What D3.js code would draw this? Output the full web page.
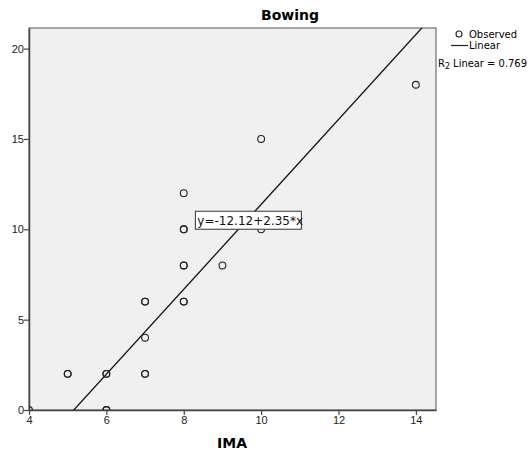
<!DOCTYPE html>
<html>
<head>
<meta charset="utf-8">
<script src="https://cdn.jsdelivr.net/npm/d3@7"></script>
<style>
  body { margin: 0; background: #fff; }
  svg { font-family: "DejaVu Sans", sans-serif; }
</style>
</head>
<body>
<div id="chart"></div>
<script>
// observed points (IMA, Bowing); repeated pairs are drawn on top of each other
const imaValues    = [4, 5, 5, 6, 6, 6, 6, 7, 7, 7, 7, 7, 8, 8, 8, 8, 8, 8, 8, 9, 10, 10, 14];
const bowingValues = [0, 2, 2, 2, 2, 0, 0, 6, 6, 4, 2, 2, 12, 10, 10, 8, 8, 6, 6, 8, 15, 10, 18];
const xTicks = [4, 6, 8, 10, 12, 14];
const yTicks = [0, 5, 10, 15, 20];
const fit = { intercept: -12.12, slope: 2.35, r2: 0.769 };

const width = 528, height = 450;
const margin = { top: 28, right: 92, bottom: 40, left: 29 };
const innerW = width - margin.left - margin.right;
const innerH = height - margin.top - margin.bottom;

const svg = d3.select('#chart').append('svg')
  .attr('width', width).attr('height', height);

const x = d3.scaleLinear().domain([4, 14.52]).range([margin.left, margin.left + innerW]);
const y = d3.scaleLinear().domain([0, 21.14]).range([margin.top + innerH, margin.top]);

// plot background
svg.append('rect')
  .attr('x', margin.left).attr('y', margin.top)
  .attr('width', innerW).attr('height', innerH)
  .attr('fill', '#f0f0f0').attr('stroke', '#555').attr('stroke-width', 1);

svg.append('clipPath').attr('id', 'plot-clip')
  .append('rect')
  .attr('x', margin.left).attr('y', margin.top)
  .attr('width', innerW).attr('height', innerH);

// axes
const xAxis = svg.append('g')
  .attr('transform', `translate(0,${margin.top + innerH})`)
  .call(d3.axisBottom(x).tickValues(xTicks).tickSize(5).tickSizeOuter(0));
const yAxis = svg.append('g')
  .attr('transform', `translate(${margin.left},0)`)
  .call(d3.axisLeft(y).tickValues(yTicks).tickSize(5).tickSizeOuter(0));

[xAxis, yAxis].forEach(g => {
  g.select('.domain').attr('stroke', '#444').attr('stroke-width', 1.5);
  g.selectAll('.tick line').attr('stroke', '#444').attr('stroke-width', 1.2);
  g.selectAll('.tick text').attr('fill', '#222').style('font-size', '11px');
});
xAxis.selectAll('.tick text').attr('dy', '0.55em');
yAxis.selectAll('.tick text').attr('x', -5);

// regression line
const line = d3.line().x(d => x(d)).y(d => y(fit.intercept + fit.slope * d));
svg.append('path')
  .datum([4, 14.52])
  .attr('clip-path', 'url(#plot-clip)')
  .attr('d', line)
  .attr('fill', 'none').attr('stroke', '#111').attr('stroke-width', 1.3);

// points
svg.append('g').attr('clip-path', 'url(#plot-clip)')
  .selectAll('circle')
  .data(imaValues.map((v, i) => [v, bowingValues[i]]))
  .join('circle')
  .attr('cx', d => x(d[0])).attr('cy', d => y(d[1]))
  .attr('r', 3.4)
  .attr('fill', 'none').attr('stroke', '#222').attr('stroke-width', 1.1);

// equation label
const eq = svg.append('g').attr('transform', `translate(${x(8.3)},${y(11.0)})`);
eq.append('rect')
  .attr('width', 106).attr('height', 18)
  .attr('fill', '#fff').attr('stroke', '#333').attr('stroke-width', 1);
eq.append('text')
  .attr('x', 2).attr('y', 13.5)
  .style('font-size', '12px').attr('fill', '#111')
  .text(`y=${fit.intercept}+${fit.slope}*x`);

// title and axis label
svg.append('text')
  .attr('x', 290).attr('y', 20)
  .attr('text-anchor', 'middle')
  .style('font-size', '14px').style('font-weight', 'bold')
  .text('Bowing');
svg.append('text')
  .attr('x', 232).attr('y', 448)
  .attr('text-anchor', 'middle')
  .style('font-size', '14px').style('font-weight', 'bold')
  .text('IMA');

// legend
const legend = svg.append('g').style('font-size', '10px');
legend.append('circle')
  .attr('cx', 459).attr('cy', 34).attr('r', 3)
  .attr('fill', 'none').attr('stroke', '#222').attr('stroke-width', 1.1);
legend.append('text').attr('x', 469).attr('y', 38).text('Observed');
legend.append('line')
  .attr('x1', 451).attr('x2', 468).attr('y1', 45.5).attr('y2', 45.5)
  .attr('stroke', '#222').attr('stroke-width', 1.2);
legend.append('text').attr('x', 469).attr('y', 49).text('Linear');
const r2 = legend.append('text').attr('x', 438).attr('y', 67)
  .attr('textLength', 89).attr('lengthAdjust', 'spacingAndGlyphs');
r2.append('tspan').text('R');
r2.append('tspan').attr('dy', 2).style('font-size', '8px').text('2');
r2.append('tspan').attr('dy', -2).text(` Linear = ${fit.r2}`);
</script>
</body>
</html>
